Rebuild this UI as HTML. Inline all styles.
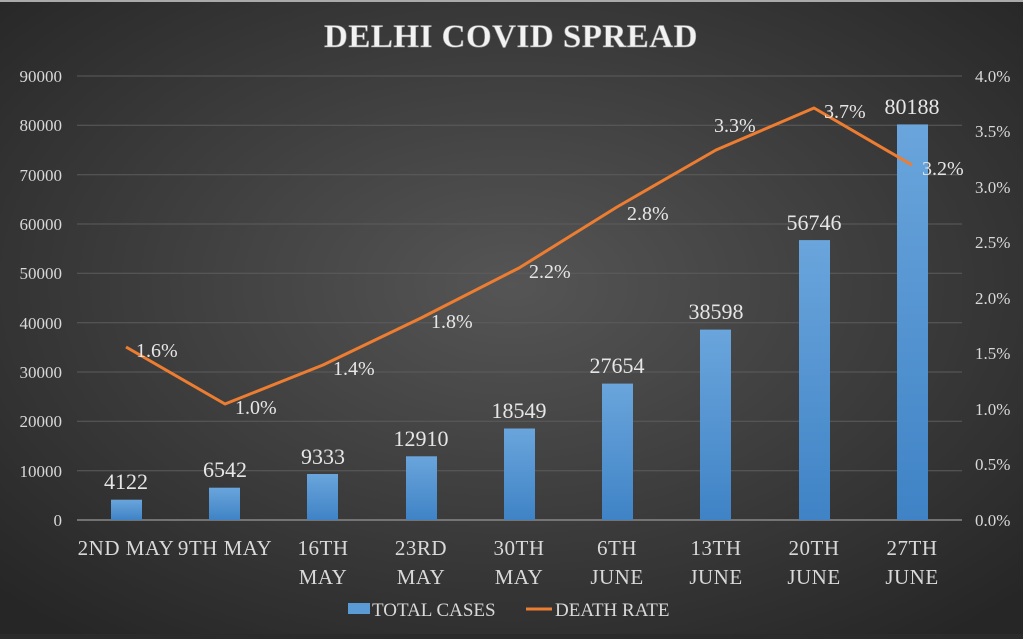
<!DOCTYPE html>
<html><head><style>
html,body{margin:0;padding:0;}
body{width:1023px;height:634px;overflow:hidden;background:#2b2b2b;}
svg text{font-family:"Liberation Serif",serif;}
</style></head><body>
<svg width="1023" height="634" xmlns="http://www.w3.org/2000/svg">
<defs>
<radialGradient id="bg" cx="50%" cy="45%" r="70%">
<stop offset="0" stop-color="#555"/><stop offset="1" stop-color="#262626"/>
</radialGradient>
<linearGradient id="bar" x1="0" y1="0" x2="0" y2="1">
<stop offset="0" stop-color="#6aa5dc"/><stop offset="1" stop-color="#3f83c6"/>
</linearGradient>
</defs>
<rect x="0" y="0" width="1023" height="634" fill="url(#bg)"/>
<rect x="0" y="0" width="1023" height="2" fill="#aaa"/>
<text x="511" y="47" text-anchor="middle" font-size="33" font-weight="bold" fill="#f2f2f2" stroke="#999" stroke-width="0.6" letter-spacing="0.5">DELHI COVID SPREAD</text>
<g stroke="#5c5c5c" stroke-width="1">
<line x1="77" x2="962" y1="76" y2="76"/><line x1="77" x2="962" y1="125.3" y2="125.3"/>
<line x1="77" x2="962" y1="174.7" y2="174.7"/><line x1="77" x2="962" y1="224" y2="224"/>
<line x1="77" x2="962" y1="273.3" y2="273.3"/><line x1="77" x2="962" y1="322.7" y2="322.7"/>
<line x1="77" x2="962" y1="372" y2="372"/><line x1="77" x2="962" y1="421.3" y2="421.3"/>
<line x1="77" x2="962" y1="470.7" y2="470.7"/>
</g>
<line x1="77" x2="962" y1="520" y2="520" stroke="#888" stroke-width="1.5"/>
<g font-size="17" fill="#d9d9d9" text-anchor="end">
<text x="62" y="82">90000</text><text x="62" y="131">80000</text><text x="62" y="181">70000</text>
<text x="62" y="230">60000</text><text x="62" y="279">50000</text><text x="62" y="329">40000</text>
<text x="62" y="378">30000</text><text x="62" y="427">20000</text><text x="62" y="477">10000</text>
<text x="62" y="526">0</text>
</g>
<g font-size="17" fill="#d9d9d9" text-anchor="start">
<text x="975" y="82">4.0%</text><text x="975" y="137">3.5%</text><text x="975" y="193">3.0%</text>
<text x="975" y="248">2.5%</text><text x="975" y="304">2.0%</text><text x="975" y="359">1.5%</text>
<text x="975" y="415">1.0%</text><text x="975" y="470">0.5%</text><text x="975" y="526">0.0%</text>
</g>
<g fill="url(#bar)">
<rect x="111" y="499.7" width="31" height="20.3"/>
<rect x="209" y="487.7" width="31" height="32.3"/>
<rect x="307" y="474" width="31" height="46"/>
<rect x="406" y="456.3" width="31" height="63.7"/>
<rect x="504" y="428.5" width="31" height="91.5"/>
<rect x="602" y="383.6" width="31" height="136.4"/>
<rect x="700" y="329.6" width="31" height="190.4"/>
<rect x="799" y="240.1" width="31" height="279.9"/>
<rect x="897" y="124.4" width="31" height="395.6"/>
</g>
<g font-size="22" fill="#e6e6e6" text-anchor="middle">
<text x="126" y="489">4122</text><text x="225" y="477">6542</text><text x="323" y="464">9333</text>
<text x="421" y="446">12910</text><text x="519" y="418">18549</text><text x="617" y="373">27654</text>
<text x="716" y="319">38598</text><text x="814" y="230">56746</text><text x="912" y="114">80188</text>
</g>
<polyline fill="none" stroke="#ed7d31" stroke-width="3" stroke-linejoin="round" points="126,347 225,404 323,365 421,318 519,268 617,207 716,150 814,108 912,165"/>
<g font-size="20" fill="#e6e6e6">
<text x="136" y="357">1.6%</text><text x="235" y="414">1.0%</text><text x="333" y="375">1.4%</text>
<text x="431" y="328">1.8%</text><text x="529" y="278">2.2%</text><text x="627" y="220">2.8%</text>
<text x="714" y="132">3.3%</text><text x="824" y="118">3.7%</text><text x="922" y="175">3.2%</text>
</g>
<g font-size="21" fill="#d9d9d9" text-anchor="middle" letter-spacing="0.5">
<text x="126" y="555">2ND MAY</text><text x="225" y="555">9TH MAY</text>
<text x="323" y="555">16TH</text><text x="323" y="584">MAY</text>
<text x="421" y="555">23RD</text><text x="421" y="584">MAY</text>
<text x="519" y="555">30TH</text><text x="519" y="584">MAY</text>
<text x="617" y="555">6TH</text><text x="617" y="584">JUNE</text>
<text x="716" y="555">13TH</text><text x="716" y="584">JUNE</text>
<text x="814" y="555">20TH</text><text x="814" y="584">JUNE</text>
<text x="912" y="555">27TH</text><text x="912" y="584">JUNE</text>
</g>
<rect x="348" y="603" width="22" height="11" fill="#5b9bd5"/>
<text x="372" y="616" font-size="19" fill="#d9d9d9">TOTAL CASES</text>
<line x1="526" x2="552" y1="609" y2="609" stroke="#ed7d31" stroke-width="3"/>
<text x="555" y="616" font-size="19" fill="#d9d9d9">DEATH RATE</text>
</svg>
</body></html>
